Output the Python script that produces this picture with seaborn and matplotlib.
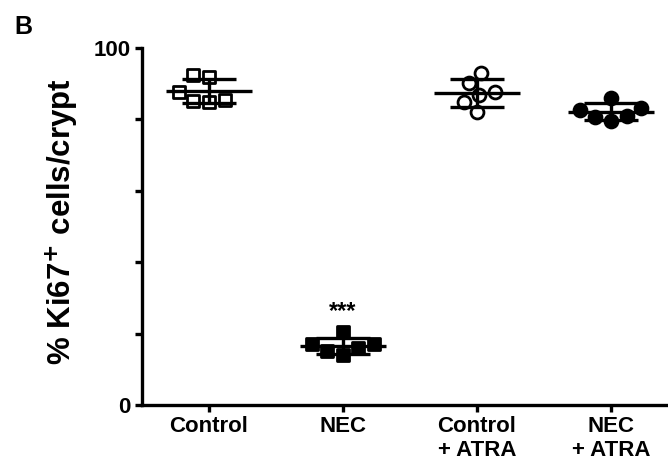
import matplotlib
matplotlib.use("Agg")
import matplotlib.pyplot as plt
import seaborn as sns
import pandas as pd
import numpy as np

sns.set_style("ticks")
plt.rcParams['font.family'] = ['Liberation Sans', 'DejaVu Sans']
plt.rcParams['font.weight'] = 'bold'
plt.rcParams['text.color'] = 'black'
plt.rcParams['axes.labelcolor'] = 'black'

categories = ["Control", "NEC", "Control\n+ ATRA", "NEC\n+ ATRA"]
control = [92.4, 91.8, 87.7, 85.2, 85.0, 85.3]
nec = [17.0, 16.0, 20.5, 14.0, 15.0, 17.2]
control_atra = [90.2, 86.8, 87.7, 93.0, 84.9, 82.1]
nec_atra = [83.2, 82.6, 86.0, 79.6, 80.7, 81.0]
yticks = [0, 20, 40, 60, 80, 100]
ytick_labels = ["0", "", "", "", "", "100"]

groups = [control, nec, control_atra, nec_atra]
markers = ["s", "s", "o", "o"]
faces = ["white", "black", "white", "black"]

df = pd.DataFrame({
    "group": np.repeat(categories, [len(g) for g in groups]),
    "value": np.concatenate(groups),
})

fig = plt.figure(figsize=(6.68, 4.66), dpi=100)
ax = fig.add_axes([0.2126, 0.1309, 0.7874, 0.7661])

for cat, mk, fc in zip(categories, markers, faces):
    sub = df[df["group"] == cat]
    sns.swarmplot(data=sub, x="group", y="value", order=categories, ax=ax,
                  marker=mk, color=fc, edgecolor="black", linewidth=2.0,
                  size=9.3, zorder=2)

stats = df.groupby("group", sort=False)["value"].agg(["mean", "std"])
for i, cat in enumerate(categories):
    m, s = stats.loc[cat, "mean"], stats.loc[cat, "std"]
    ax.hlines(m, i - 0.32, i + 0.32, color="black", lw=2.4, zorder=3)
    ax.hlines([m - s, m + s], i - 0.2, i + 0.2, color="black", lw=2.4, zorder=3)
    ax.vlines(i, m - s, m + s, color="black", lw=2.4, zorder=3)

nec_idx = categories.index("NEC")
ax.text(nec_idx, stats.loc["NEC", "mean"] + stats.loc["NEC", "std"] + 4.0, "***",
        ha="center", va="bottom", fontsize=17, fontweight="bold", color="black")

ax.set_xlim(-0.5, 3.425)
ax.set_ylim(0, 100)
ax.set_yticks(yticks)
ax.set_yticklabels(ytick_labels)
ax.set_xlabel("")
ax.set_ylabel("% Ki67$^{\\mathbf{+}}$ cells/crypt", fontsize=22.5, fontweight="bold",
              color="black")
ax.yaxis.set_label_coords(-0.118, 0.515)
ax.tick_params(axis="both", which="both", direction="out", length=5, width=2.4,
               labelsize=16, colors="black", pad=3)
for lab in ax.get_xticklabels() + ax.get_yticklabels():
    lab.set_fontweight("bold")
for sp in ["top", "right"]:
    ax.spines[sp].set_visible(False)
for sp in ["left", "bottom"]:
    ax.spines[sp].set_linewidth(2.4)
    ax.spines[sp].set_color("black")

fig.text(0.022, 0.968, "B", fontsize=18, fontweight="bold", va="top", ha="left", color="black")

fig.savefig("out.png", dpi=100)
